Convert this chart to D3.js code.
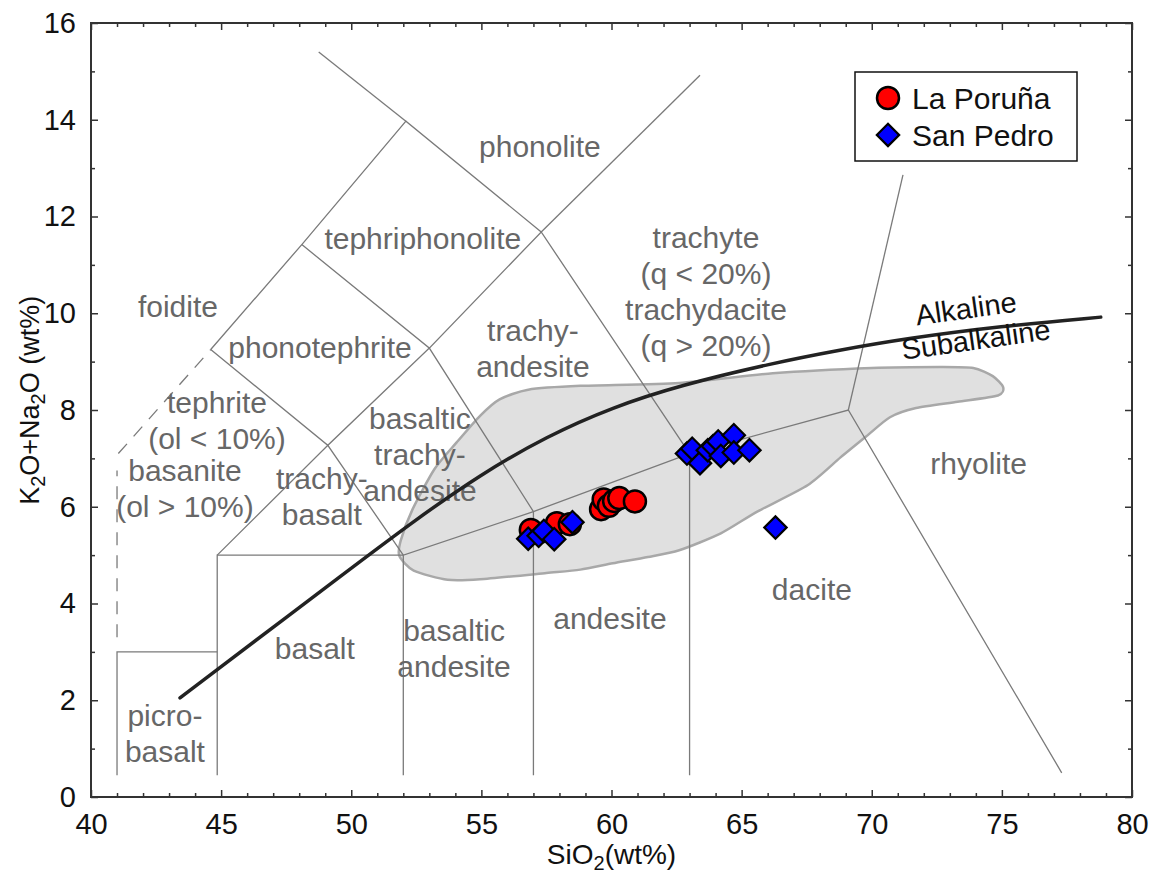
<!DOCTYPE html>
<html>
<head>
<meta charset="utf-8">
<script src="https://cdn.jsdelivr.net/npm/d3@7"></script>
<style>
  body { margin: 0; background: #fff; }
  svg { font-family: "Liberation Sans", Arial, sans-serif; }
</style>
</head>
<body>
<div id="graph"></div>
<script>
// ticks
const xTicks = [40, 45, 50, 55, 60, 65, 70, 75, 80];
const yTicks = [0, 2, 4, 6, 8, 10, 12, 14, 16];

// sample data (SiO2, Na2O+K2O)
const poruna = [
  [56.9, 5.52], [57.9, 5.66], [58.4, 5.64], [59.6, 5.95], [59.7, 6.15],
  [59.9, 6.02], [60.1, 6.12], [60.3, 6.18], [60.9, 6.11]
];
const sanPedro = [
  [56.8, 5.34], [57.2, 5.40], [57.4, 5.50], [57.8, 5.33], [58.5, 5.68],
  [62.9, 7.10], [63.1, 7.20], [63.4, 6.90], [63.7, 7.17], [63.9, 7.25],
  [64.1, 7.35], [64.2, 7.05], [64.7, 7.48], [64.7, 7.12], [65.3, 7.17],
  [66.3, 5.57]
];
const seriesNames = ["La Poruña", "San Pedro"];

// TAS field boundaries
const fieldLines = [
  [[41, 0.45], [41, 3], [44.85, 3]],
  [[44.85, 0.45], [44.85, 5], [52, 5]],
  [[52, 0.45], [52, 5], [57, 5.9], [63, 7.1], [69.1, 8], [77.3, 0.5]],
  [[57, 0.45], [57, 5.9]],
  [[63, 0.45], [63, 7.1]],
  [[44.85, 5], [49.1, 7.27], [52, 5]],
  [[44.6, 9.25], [49.1, 7.27], [53, 9.28], [57, 5.9]],
  [[48.1, 11.42], [53, 9.28], [57.3, 11.68], [63, 7.1]],
  [[44.6, 9.25], [48.1, 11.42], [52.1, 13.97], [57.3, 11.68]],
  [[48.75, 15.4], [52.1, 13.97]],
  [[57.3, 11.68], [63.4, 14.92]],
  [[69.1, 8], [71.2, 12.86]]
];
const dashedLines = [
  [[41, 3.3], [41, 6.75]],
  [[41.05, 7.1], [44.6, 9.25]]
];

// alkaline / subalkaline divide
const divide = [
  [43.42, 2.05], [50.41, 4.9], [52.37, 5.69], [54.94, 6.66], [57.52, 7.46],
  [60.05, 8.06], [62.63, 8.51], [66.2, 8.97], [68.77, 9.24], [71.35, 9.48],
  [74.92, 9.73], [78.8, 9.92]
];

// shaded field of regional volcanics
const shadedField = [
  [51.85, 4.98], [51.9, 5.3], [52.35, 5.94], [53.2, 6.78], [54.05, 7.33],
  [54.95, 7.88], [55.7, 8.22], [56.8, 8.42], [58.8, 8.5], [62.6, 8.56],
  [66.2, 8.76], [70.0, 8.87], [72.6, 8.89], [73.9, 8.87], [74.65, 8.7],
  [75.05, 8.47], [74.85, 8.3], [73.3, 8.17], [71.7, 8.04], [70.7, 7.85],
  [69.8, 7.46], [68.8, 7.02], [67.55, 6.45], [65.6, 5.9], [64.2, 5.45],
  [62.6, 5.1], [61.4, 4.96], [60.05, 4.83], [58.8, 4.7], [57.5, 4.63],
  [54.95, 4.5], [53.7, 4.49], [52.4, 4.68]
];

const fieldLabels = [
  { t: ["phonolite"], x: 57.25, y: 13.44 },
  { t: ["tephriphonolite"], x: 52.75, y: 11.55 },
  { t: ["foidite"], x: 43.34, y: 10.14 },
  { t: ["phonotephrite"], x: 48.8, y: 9.3 },
  { t: ["tephrite", "(ol < 10%)"], x: 44.84, y: 7.79 },
  { t: ["basanite", "(ol > 10%)"], x: 43.61, y: 6.37 },
  { t: ["trachy-", "basalt"], x: 48.87, y: 6.21 },
  { t: ["basaltic", "trachy-", "andesite"], x: 52.64, y: 7.09 },
  { t: ["trachy-", "andesite"], x: 56.98, y: 9.27 },
  { t: ["trachyte", "(q < 20%)", "trachydacite", "(q > 20%)"], x: 63.63, y: 10.44 },
  { t: ["rhyolite"], x: 74.11, y: 6.89 },
  { t: ["dacite"], x: 67.7, y: 4.28 },
  { t: ["andesite"], x: 59.94, y: 3.7 },
  { t: ["basaltic", "andesite"], x: 53.95, y: 3.06 },
  { t: ["basalt"], x: 48.6, y: 3.07 },
  { t: ["picro-", "basalt"], x: 42.84, y: 1.31 }
];

function TASPlot() {
  const config = {
    marginLeft: 91,
    marginRight: 26,
    marginTop: 23,
    marginBottom: 82,
  };
  const width = 1158;
  const height = 879;
  const w = width - config.marginLeft - config.marginRight;
  const h = height - config.marginTop - config.marginBottom;

  const svg = d3
    .select("#graph")
    .append("svg")
    .attr("width", width)
    .attr("height", height)
    .append("g")
    .attr("transform", `translate(${config.marginLeft},${config.marginTop})`);

  const x = d3.scaleLinear().domain([40, 80]).range([0, w]);
  const y = d3.scaleLinear().domain([0, 16]).range([h, 0]);
  const line = d3.line().x((d) => x(d[0])).y((d) => y(d[1]));

  // shaded field
  svg
    .append("path")
    .datum(shadedField)
    .attr("d", d3.line().x((d) => x(d[0])).y((d) => y(d[1])).curve(d3.curveCardinalClosed.tension(0.3)))
    .attr("fill", "#e0e0e0")
    .attr("stroke", "#a8a8a8")
    .attr("stroke-width", 2.5);

  // field boundaries
  svg
    .selectAll(".field-line")
    .data(fieldLines)
    .enter()
    .append("path")
    .attr("class", "field-line")
    .attr("d", line)
    .attr("fill", "none")
    .attr("stroke", "#7a7a7a")
    .attr("stroke-width", 1.3);

  svg
    .selectAll(".dash-line")
    .data(dashedLines)
    .enter()
    .append("path")
    .attr("class", "dash-line")
    .attr("d", line)
    .attr("fill", "none")
    .attr("stroke", "#7a7a7a")
    .attr("stroke-width", 1.3)
    .attr("stroke-dasharray", "13,10");

  // field names
  const labels = svg
    .selectAll(".field-label")
    .data(fieldLabels)
    .enter()
    .append("text")
    .attr("class", "field-label")
    .attr("text-anchor", "middle")
    .attr("fill", "#676767")
    .style("font-size", "30px");

  labels
    .selectAll("tspan")
    .data((d) => d.t.map((s, i) => ({ s, i, n: d.t.length, x: d.x, y: d.y })))
    .enter()
    .append("tspan")
    .attr("x", (d) => x(d.x))
    .attr("y", (d) => y(d.y) + (d.i - (d.n - 1) / 2) * 36)
    .attr("dy", "0.35em")
    .text((d) => d.s);

  // alkaline / subalkaline curve
  svg
    .append("path")
    .datum(divide)
    .attr("d", d3.line().x((d) => x(d[0])).y((d) => y(d[1])).curve(d3.curveBasis))
    .attr("fill", "none")
    .attr("stroke", "#222")
    .attr("stroke-width", 3.5)
    .attr("stroke-linecap", "round");

  svg
    .append("text")
    .attr("transform", `translate(${x(73.62)},${y(10.1)}) rotate(-8)`)
    .attr("text-anchor", "middle")
    .attr("dy", "0.35em")
    .style("font-size", "29px")
    .attr("fill", "#111")
    .text("Alkaline");

  svg
    .append("text")
    .attr("transform", `translate(${x(74.0)},${y(9.46)}) rotate(-8)`)
    .attr("text-anchor", "middle")
    .attr("dy", "0.35em")
    .style("font-size", "29px")
    .attr("fill", "#111")
    .text("Subalkaline");

  // samples
  svg
    .selectAll(".poruna")
    .data(poruna)
    .enter()
    .append("circle")
    .attr("class", "poruna")
    .attr("cx", (d) => x(d[0]))
    .attr("cy", (d) => y(d[1]))
    .attr("r", 11)
    .attr("fill", "#ff0000")
    .attr("stroke", "#000")
    .attr("stroke-width", 2.5);

  const diamond = d3.symbol().type(d3.symbolSquare).size(250);

  svg
    .selectAll(".sanpedro")
    .data(sanPedro)
    .enter()
    .append("path")
    .attr("class", "sanpedro")
    .attr("d", diamond)
    .attr("transform", (d) => `translate(${x(d[0])},${y(d[1])}) rotate(45)`)
    .attr("fill", "#0000ff")
    .attr("stroke", "#000")
    .attr("stroke-width", 2.2);

  // axes: major + minor ticks, all pointing inward
  const minorX = d3.range(41, 80).filter((v) => v % 5 !== 0);
  const minorY = d3.range(1, 16, 2);

  const xAxis = d3.axisBottom(x).tickValues(xTicks).tickSizeInner(-7).tickSizeOuter(0).tickPadding(16);
  const yAxis = d3.axisLeft(y).tickValues(yTicks).tickSizeInner(-7).tickSizeOuter(0).tickPadding(15);

  svg.append("g").attr("class", "x-axis").attr("transform", `translate(0,${h})`).call(xAxis);
  svg.append("g").attr("class", "y-axis").call(yAxis);
  svg.append("g").attr("transform", `translate(0,${h})`)
    .call(d3.axisBottom(x).tickValues(minorX).tickSize(-4).tickFormat(""));
  svg.append("g").call(d3.axisLeft(y).tickValues(minorY).tickSize(-4).tickFormat(""));
  svg.append("g").call(d3.axisTop(x).tickValues(xTicks).tickSize(-7).tickFormat(""));
  svg.append("g").call(d3.axisTop(x).tickValues(minorX).tickSize(-4).tickFormat(""));
  svg.append("g").attr("transform", `translate(${w},0)`)
    .call(d3.axisRight(y).tickValues(yTicks).tickSize(-7).tickFormat(""));
  svg.append("g").attr("transform", `translate(${w},0)`)
    .call(d3.axisRight(y).tickValues(minorY).tickSize(-4).tickFormat(""));

  svg.selectAll(".domain").remove();
  svg.selectAll(".tick line").attr("stroke", "#333").attr("stroke-width", 1.5);
  svg.selectAll(".tick text")
    .attr("fill", "#111")
    .style("font-size", "29px")
    .style("font-family", "'Liberation Sans', Arial, sans-serif");

  svg
    .append("rect")
    .attr("width", w)
    .attr("height", h)
    .attr("fill", "none")
    .attr("stroke", "#333")
    .attr("stroke-width", 2);

  // axis titles
  const xTitle = svg
    .append("text")
    .attr("x", w / 2)
    .attr("y", h + 67)
    .attr("text-anchor", "middle")
    .style("font-size", "28px")
    .attr("fill", "#111");
  xTitle.append("tspan").text("SiO");
  xTitle.append("tspan").attr("dy", 6).style("font-size", "20px").text("2");
  xTitle.append("tspan").attr("dy", -6).text("(wt%)");

  const yTitle = svg
    .append("text")
    .attr("transform", `translate(${-52},${y(8.2)}) rotate(-90)`)
    .attr("text-anchor", "middle")
    .style("font-size", "27px")
    .attr("fill", "#111");
  yTitle.append("tspan").text("K");
  yTitle.append("tspan").attr("dy", 6).style("font-size", "20px").text("2");
  yTitle.append("tspan").attr("dy", -6).text("O+Na");
  yTitle.append("tspan").attr("dy", 6).style("font-size", "20px").text("2");
  yTitle.append("tspan").attr("dy", -6).text("O (wt%)");

  // legend
  const legend = svg.append("g").attr("class", "legend-group").attr("transform", `translate(${764},${49})`);
  legend
    .append("rect")
    .attr("width", 222)
    .attr("height", 89)
    .attr("fill", "#fff")
    .attr("stroke", "#111")
    .attr("stroke-width", 1.5);

  const entries = legend
    .selectAll(".legend-entry")
    .data(seriesNames)
    .enter()
    .append("g")
    .attr("class", "legend-entry")
    .attr("transform", (d, i) => `translate(33,${26 + i * 37})`);

  entries
    .filter((d, i) => i === 0)
    .append("circle")
    .attr("r", 11)
    .attr("fill", "#ff0000")
    .attr("stroke", "#000")
    .attr("stroke-width", 2.5);

  entries
    .filter((d, i) => i === 1)
    .append("path")
    .attr("d", diamond)
    .attr("transform", "rotate(45)")
    .attr("fill", "#0000ff")
    .attr("stroke", "#000")
    .attr("stroke-width", 2.2);

  entries
    .append("text")
    .text((d) => d)
    .attr("x", 24)
    .attr("dy", "0.36em")
    .attr("fill", "#111")
    .style("font-size", "30px");
}

TASPlot();
</script>
</body>
</html>
